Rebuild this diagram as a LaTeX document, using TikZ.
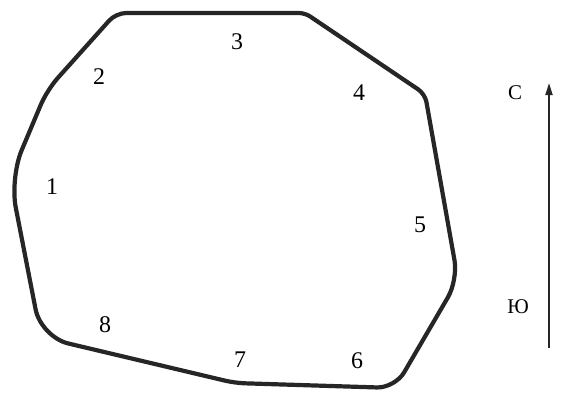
\documentclass[tikz,border=0pt]{standalone}
\usepackage{fontspec}
\setmainfont{Liberation Serif}
\usetikzlibrary{arrows.meta}

\begin{document}
\begin{tikzpicture}[x=1bp, y=-1bp,
    num/.style={font=\fontsize{24}{24}\selectfont, inner sep=0pt},
    side/.style={font=\fontsize{21}{21}\selectfont, inner sep=0pt},
    rim/.style={line width=4.2bp, draw=black!85, line join=round},
    axis/.style={line width=1.8bp, draw=black!85,
      -{Triangle[length=12bp, width=7bp]}}
  ]
  \useasboundingbox (0,0) rectangle (561,393);
  % outline of the site
  \coordinate (top) at (210,13);
  \coordinate (cB) at (305,13);
  \coordinate (cC) at (425,94);
  \coordinate (cD) at (458,280);
  \coordinate (cE) at (395,388);
  \coordinate (cF) at (235,383);
  \coordinate (cG) at (41,337);
  \coordinate (cH) at (10,178);
  \coordinate (cI) at (47,90);
  \coordinate (cA) at (116,13);
  \draw[rim] (top) [rounded corners=6bp] -- (cB)
    [rounded corners=8bp] -- (cC)
    [rounded corners=20bp] -- (cD)
    [rounded corners=18bp] -- (cE)
    [rounded corners=10bp] -- (cF)
    [rounded corners=28bp] -- (cG)
    [rounded corners=30bp] -- (cH)
    [rounded corners=16bp] -- (cI)
    [rounded corners=10bp] -- (cA) -- cycle;
  % point numbers
  \node[num] (p1) at (52,187) {1};
  \node[num] (p2) at (99,77) {2};
  \node[num] (p3) at (237,42) {3};
  \node[num] (p4) at (359,93) {4};
  \node[num] (p5) at (420,225) {5};
  \node[num] (p6) at (357,361) {6};
  \node[num] (p7) at (240,360) {7};
  \node[num] (p8) at (105,325) {8};
  % north arrow
  \coordinate (south) at (549,348);
  \coordinate (north) at (549,83);
  \draw[axis] (south) -- (north);
  \node[side] (nord) at (515,93) {С};
  \node[side] (sud) at (518,307) {Ю};
\end{tikzpicture}
\end{document}
